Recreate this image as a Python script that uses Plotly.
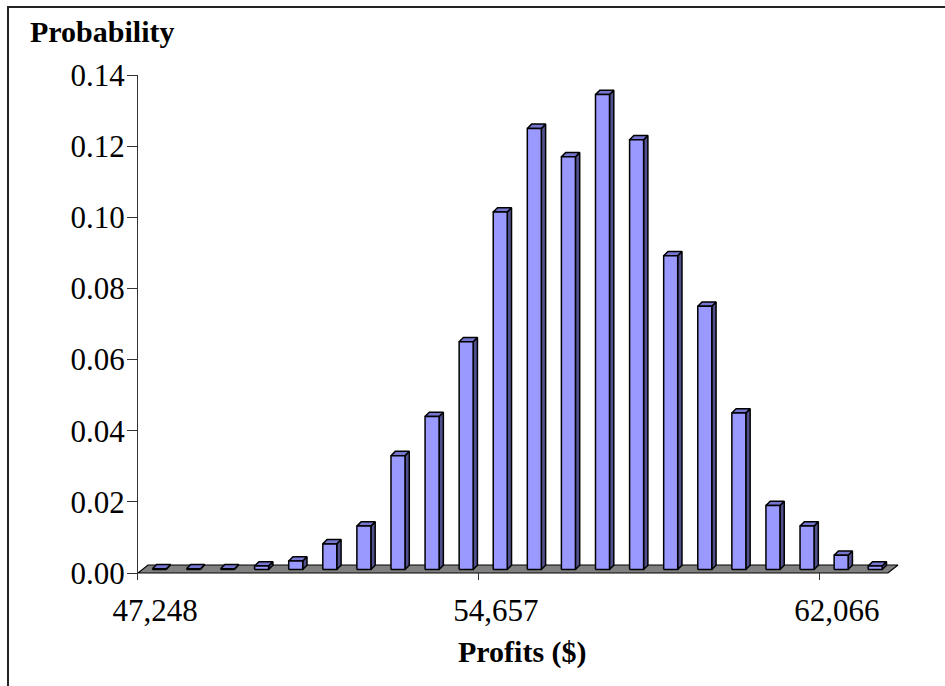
import plotly.graph_objects as go

# Histogram of simulated profits: probability of each profit bin
probability = [0.0002, 0.0002, 0.0002, 0.0010, 0.0024, 0.0072, 0.0122,
               0.0320, 0.0430, 0.0640, 0.1005, 0.1240, 0.1160, 0.1335,
               0.1208, 0.0882, 0.0740, 0.0440, 0.0180, 0.0122, 0.0040, 0.0010]
label_bins = [0, 10, 20]
label_text = ["47,248", "54,657", "62,066"]
y_tick_vals = [0.00, 0.02, 0.04, 0.06, 0.08, 0.10, 0.12, 0.14]

n_bins = len(probability)

# ---- page geometry -------------------------------------------------------
W, H = 945, 686
ML, MR, MT, MB = 138, 40, 75, 106
plot_w = W - ML - MR
plot_h = H - MT - MB

x_lo, x_hi = -0.5, 22.0
y_hi = 0.14
px_per_unit = 498 / y_hi                 # vertical scale of the value axis
y_lo = -7 / px_per_unit
px_per_bin = plot_w / (x_hi - x_lo)


def dx(px):
    return px / px_per_bin


def dy(px):
    return px / px_per_unit


def paper_x(px):
    return (px - ML) / plot_w


def paper_y(py):
    return (H - MB - py) / plot_h


# 3-D look: a slanted floor and boxes standing half-way into it
floor_depth = (dx(10), dy(8))
front_shift = (dx(4.3), dy(3.5))
box_depth = (dx(4.3), dy(4.3))
box_w = dx(14)

FRONT = "#9999FF"
TOP = "#7676D0"
SIDE = "#50508C"
EDGE = "#000000"

fig = go.Figure()

# floor
fx0, fx1 = -0.5, n_bins - 0.5
fig.add_trace(go.Scatter(
    x=[fx0, fx1, fx1 + floor_depth[0], fx0 + floor_depth[0], fx0],
    y=[0, 0, floor_depth[1], floor_depth[1], 0],
    mode="lines", fill="toself", fillcolor="#808080",
    line=dict(color=EDGE, width=1.2), hoverinfo="skip", showlegend=False))

front_x, front_y, top_x, top_y, side_x, side_y = [], [], [], [], [], []
for i, v in enumerate(probability):
    xc = i + front_shift[0]
    xl, xr = xc - box_w / 2, xc + box_w / 2
    b = front_shift[1]
    t = b + v
    ox, oy = box_depth
    front_x += [xl, xr, xr, xl, xl, None]
    front_y += [b, b, t, t, b, None]
    top_x += [xl, xr, xr + ox, xl + ox, xl, None]
    top_y += [t, t, t + oy, t + oy, t, None]
    side_x += [xr, xr + ox, xr + ox, xr, xr, None]
    side_y += [b, b + oy, t + oy, t, b, None]

for xs, ys, col in [(side_x, side_y, SIDE), (top_x, top_y, TOP),
                    (front_x, front_y, FRONT)]:
    fig.add_trace(go.Scatter(
        x=xs, y=ys, mode="lines", fill="toself", fillcolor=col,
        line=dict(color=EDGE, width=1.5), hoverinfo="skip",
        showlegend=False))

# carrier for the labelled category axis (draws nothing itself)
fig.add_trace(go.Scatter(x=[x_lo, x_hi], y=[0, 0], xaxis="x2", yaxis="y",
                         mode="none", hoverinfo="skip", showlegend=False))

tick_font = dict(family="Liberation Serif, Times New Roman, serif",
                 size=31, color="#000000")
title_font = dict(family="Liberation Serif, Times New Roman, serif",
                  size=30, color="#000000")

fig.update_layout(
    width=W, height=H,
    margin=dict(l=ML, r=MR, t=MT, b=MB, pad=0),
    paper_bgcolor="white", plot_bgcolor="white",
    showlegend=False,
    xaxis=dict(range=[x_lo, x_hi], tickmode="array",
               tickvals=[b - 0.5 for b in label_bins],
               ticks="inside", ticklen=7, tickwidth=1, tickcolor="#333333",
               showticklabels=False, showgrid=False, zeroline=False,
               showline=False, fixedrange=True),
    xaxis2=dict(range=[x_lo, x_hi], overlaying="x", anchor="y",
                side="bottom", tickmode="array", tickvals=label_bins,
                ticktext=label_text, ticks="", showgrid=False,
                zeroline=False, showline=False, tickfont=tick_font,
                ticklabelstandoff=9, fixedrange=True),
    yaxis=dict(range=[y_lo, y_hi], tickmode="array", tickvals=y_tick_vals,
               tickformat=".2f", ticks="outside", ticklen=10, tickwidth=1,
               tickcolor="#333333", showline=True, linecolor="#333333",
               linewidth=1, showgrid=False, zeroline=False,
               tickfont=tick_font, ticklabelstandoff=-4, fixedrange=True),
    annotations=[
        dict(text="<b>Probability</b>", xref="paper", yref="paper",
             x=paper_x(102), y=paper_y(32), xanchor="center",
             yanchor="middle", showarrow=False, font=title_font),
        dict(text="<b>Profits ($)</b>", xref="paper", yref="paper",
             x=paper_x(522), y=paper_y(652), xanchor="center",
             yanchor="middle", showarrow=False, font=title_font),
    ],
    shapes=[
        dict(type="rect", xref="paper", yref="paper",
             x0=paper_x(8), x1=paper_x(W + 20),
             y0=paper_y(H + 20), y1=paper_y(7),
             line=dict(color="#222222", width=2), fillcolor="rgba(0,0,0,0)",
             layer="above"),
    ],
)

fig.write_html("out.html")
